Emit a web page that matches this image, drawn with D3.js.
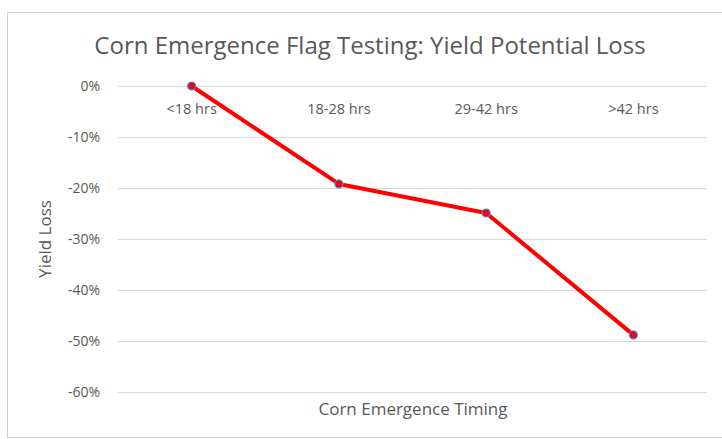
<!DOCTYPE html>
<html>
<head>
<meta charset="utf-8">
<script src="https://cdn.jsdelivr.net/npm/d3@7"></script>
<style>
  body { margin: 0; background: #fff; }
</style>
</head>
<body>
<div id="chart"></div>
<script>
// data
var categories = ['<18 hrs', '18-28 hrs', '29-42 hrs', '>42 hrs'];
var yieldLoss = [0, -0.192, -0.249, -0.488];
var yTicks = [0, -0.1, -0.2, -0.3, -0.4, -0.5, -0.6];

var attrs = {
    svgWidth: 722,
    svgHeight: 439,
    plotLeft: 118,
    plotRight: 707,
    plotTop: 86,
    plotBottom: 392,
    font: '"Open Sans", Lato, sans-serif',
    textFill: '#595959',
    gridColor: '#d9d9d9',
    lineColor: '#ff0000'
};

var pct = d => Math.round(d * 100) + '%';

var svg = d3.select('#chart').append('svg')
    .attr('width', attrs.svgWidth)
    .attr('height', attrs.svgHeight)
    .attr('font-family', attrs.font);

// outer chart border
svg.append('rect')
    .attr('x', 7.5).attr('y', 12.5)
    .attr('width', 722).attr('height', 425)
    .attr('fill', '#fff')
    .attr('stroke', '#d0d0d0');

var x = d3.scaleBand()
    .domain(categories)
    .range([attrs.plotLeft, attrs.plotRight]);

var y = d3.scaleLinear()
    .domain([0, -0.6])
    .range([attrs.plotTop, attrs.plotBottom]);

// gridlines + y labels
var yAxis = d3.axisLeft(y)
    .tickValues(yTicks)
    .tickFormat(pct)
    .tickSize(-(attrs.plotRight - attrs.plotLeft))
    .tickPadding(18);

var gy = svg.append('g')
    .attr('transform', 'translate(' + attrs.plotLeft + ',0)')
    .call(yAxis)
    .attr('font-family', attrs.font)
    .attr('font-size', 14);
gy.select('.domain').remove();
gy.selectAll('line').attr('stroke', attrs.gridColor).attr('stroke-width', 1);
gy.selectAll('text').attr('fill', attrs.textFill);

// category labels sit under the 0% line
var xAxis = d3.axisBottom(x).tickSize(0).tickPadding(18);
var gx = svg.append('g')
    .attr('transform', 'translate(0,' + y(0) + ')')
    .call(xAxis)
    .attr('font-family', attrs.font)
    .attr('font-size', 14.5);
gx.select('.domain').remove();
gx.selectAll('text').attr('fill', attrs.textFill);

// line
var line = d3.line()
    .x((d, i) => x(categories[i]) + x.bandwidth() / 2)
    .y(d => y(d));

svg.append('path')
    .datum(yieldLoss)
    .attr('d', line)
    .attr('fill', 'none')
    .attr('stroke', attrs.lineColor)
    .attr('stroke-width', 4)
    .attr('stroke-linejoin', 'round');

svg.selectAll('circle.pt')
    .data(yieldLoss)
    .join('circle')
    .attr('class', 'pt')
    .attr('cx', (d, i) => x(categories[i]) + x.bandwidth() / 2)
    .attr('cy', d => y(d))
    .attr('r', 4)
    .attr('fill', '#e8001c')
    .attr('stroke', '#5b8bc9')
    .attr('stroke-width', 1.2);

// titles
svg.append('text')
    .attr('x', 370).attr('y', 54)
    .attr('text-anchor', 'middle')
    .attr('font-size', 24)
    .attr('fill', attrs.textFill)
    .text('Corn Emergence Flag Testing: Yield Potential Loss');

svg.append('text')
    .attr('transform', 'translate(51,' + 239 + ') rotate(-90)')
    .attr('text-anchor', 'middle')
    .attr('font-size', 17)
    .attr('fill', attrs.textFill)
    .text('Yield Loss');

svg.append('text')
    .attr('x', 413).attr('y', 415)
    .attr('text-anchor', 'middle')
    .attr('font-size', 17)
    .attr('fill', attrs.textFill)
    .text('Corn Emergence Timing');
</script>
</body>
</html>
